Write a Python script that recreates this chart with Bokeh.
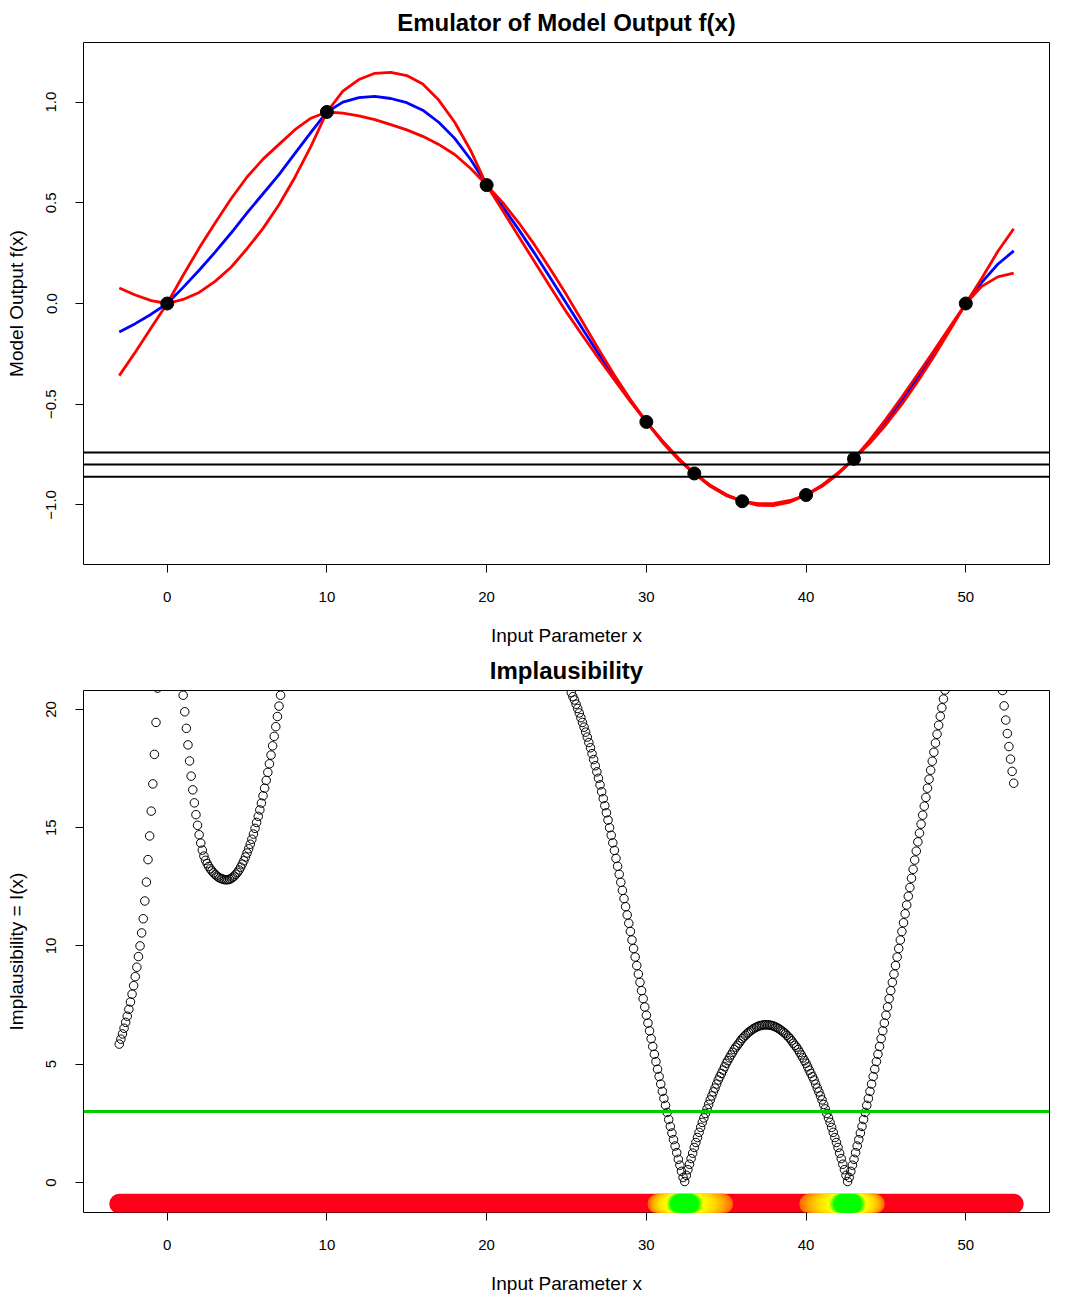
import numpy as np
from bokeh.plotting import figure
from bokeh.layouts import column
from bokeh.models import Range1d, FixedTicker, Span
from bokeh.embed import file_html
from bokeh.resources import INLINE

FONT = "Liberation Sans"

# ---- design runs of the simulator ----
design_x = [0, 10, 20, 30, 33, 36, 40, 43, 50]
design_f = [0.0, 0.951, 0.588, -0.588, -0.844, -0.982, -0.951, -0.771, 0.0]

# ---- emulator on a unit grid: mean and +/- 2 sd bounds ----
emu_x = list(range(-3, 54))
emu_mean = [
    -0.141, -0.100, -0.053, 0.000, 0.080, 0.165, 0.255, 0.350, 0.450, 0.545,
    0.640, 0.745, 0.850, 0.951, 1.000, 1.022, 1.028, 1.018, 0.997, 0.960,
    0.900, 0.820, 0.715, 0.588, 0.482, 0.368, 0.249, 0.125, 0.000, -0.125,
    -0.249, -0.368, -0.482, -0.588, -0.685, -0.771, -0.844, -0.905, -0.951, -0.982,
    -0.998, -0.998, -0.982, -0.951, -0.905, -0.844, -0.771, -0.685, -0.588, -0.482,
    -0.368, -0.249, -0.125, 0.000, 0.105, 0.195, 0.261,
]
emu_upper = [
    0.077, 0.042, 0.014, 0.000, 0.140, 0.275, 0.400, 0.520, 0.628, 0.717,
    0.790, 0.863, 0.920, 0.951, 1.055, 1.112, 1.143, 1.148, 1.132, 1.090,
    1.010, 0.900, 0.760, 0.588, 0.502, 0.402, 0.291, 0.169, 0.043, -0.091,
    -0.226, -0.356, -0.477, -0.588, -0.681, -0.767, -0.844, -0.902, -0.948, -0.982,
    -0.994, -0.993, -0.978, -0.951, -0.902, -0.841, -0.771, -0.677, -0.574, -0.464,
    -0.350, -0.235, -0.117, 0.000, 0.125, 0.258, 0.371,
]
emu_lower = [
    -0.358, -0.242, -0.120, 0.000, 0.020, 0.055, 0.110, 0.180, 0.272, 0.373,
    0.490, 0.627, 0.780, 0.951, 0.945, 0.932, 0.913, 0.888, 0.862, 0.830,
    0.790, 0.740, 0.670, 0.588, 0.462, 0.334, 0.207, 0.081, -0.043, -0.159,
    -0.272, -0.380, -0.487, -0.588, -0.689, -0.775, -0.844, -0.908, -0.954, -0.982,
    -1.002, -1.003, -0.986, -0.951, -0.908, -0.847, -0.771, -0.693, -0.602, -0.500,
    -0.386, -0.263, -0.133, 0.000, 0.085, 0.132, 0.151,
]

# ---- observation and its +/- 2 sd band ----
obs_z = -0.8
obs_lo, obs_hi = -0.86, -0.74
imp_cutoff = 3.0

# ---- implausibility, sampled every 0.1 in x where it falls inside the panel ----
imp_step = 0.1
imp_a_start = -3.0
imp_a = [
    5.85, 6.06, 6.28, 6.52, 6.77, 7.03, 7.32, 7.63, 7.96, 8.32,
    8.70, 9.10, 9.55, 10.00, 10.55, 11.15, 11.90, 12.70, 13.65, 14.65,
    15.70, 16.85, 18.10, 19.45, 20.90,
]
imp_b_start = 0.9
imp_b = [
    21.30, 20.60, 19.90, 19.20, 18.50, 17.82, 17.18, 16.60, 16.05, 15.55,
    15.10, 14.70, 14.35, 14.05, 13.80, 13.62, 13.48, 13.36, 13.26, 13.17,
    13.09, 13.02, 12.96, 12.91, 12.87, 12.84, 12.82, 12.80, 12.80, 12.80,
    12.82, 12.85, 12.90, 12.95, 13.03, 13.11, 13.21, 13.33, 13.46, 13.60,
    13.76, 13.93, 14.11, 14.30, 14.51, 14.73, 14.97, 15.22, 15.48, 15.75,
    16.04, 16.35, 16.67, 17.00, 17.34, 17.70, 18.07, 18.46, 18.86, 19.27,
    19.70, 20.14, 20.60, 21.07,
]
imp_c_start = 25.3
imp_c = [
    20.71, 20.54, 20.40, 20.22, 20.04, 19.85, 19.65, 19.45, 19.25, 19.04,
    18.83, 18.60, 18.38, 18.13, 17.88, 17.62, 17.36, 17.09, 16.81, 16.52,
    16.23, 15.93, 15.63, 15.32, 15.00, 14.68, 14.36, 14.04, 13.70, 13.37,
    13.03, 12.69, 12.35, 12.00, 11.66, 11.31, 10.96, 10.61, 10.25, 9.89,
    9.53, 9.17, 8.81, 8.46, 8.11, 7.77, 7.42, 7.07, 6.74, 6.41,
    6.08, 5.75, 5.42, 5.11, 4.79, 4.48, 4.16, 3.85, 3.55, 3.26,
    2.96, 2.66, 2.37, 2.09, 1.81, 1.54, 1.26, 0.98, 0.73, 0.47,
    0.21, 0.04, 0.30, 0.54, 0.77, 1.01, 1.24, 1.48, 1.69, 1.90,
    2.12, 2.33, 2.54, 2.73, 2.92, 3.11, 3.30, 3.49, 3.66, 3.83,
    3.99, 4.16, 4.33, 4.47, 4.61, 4.75, 4.89, 5.04, 5.15, 5.27,
    5.39, 5.50, 5.62, 5.72, 5.80, 5.89, 5.99, 6.08, 6.15, 6.22,
    6.29, 6.35, 6.40, 6.45, 6.50, 6.54, 6.57, 6.60, 6.63, 6.64,
    6.66, 6.66, 6.67, 6.66, 6.66, 6.64, 6.63, 6.60, 6.57, 6.54,
    6.50, 6.45, 6.40, 6.35, 6.29, 6.22, 6.15, 6.08, 5.99, 5.89,
    5.80, 5.72, 5.62, 5.50, 5.39, 5.27, 5.15, 5.04, 4.89, 4.75,
    4.61, 4.47, 4.33, 4.16, 3.99, 3.83, 3.66, 3.49, 3.30, 3.11,
    2.92, 2.73, 2.54, 2.33, 2.12, 1.90, 1.69, 1.48, 1.24, 1.01,
    0.77, 0.54, 0.30, 0.04, 0.21, 0.47, 0.73, 0.98, 1.26, 1.54,
    1.81, 2.09, 2.37, 2.66, 2.96, 3.26, 3.55, 3.85, 4.16, 4.48,
    4.79, 5.11, 5.42, 5.75, 6.08, 6.41, 6.74, 7.07, 7.42, 7.77,
    8.11, 8.46, 8.81, 9.17, 9.53, 9.89, 10.25, 10.61, 10.98, 11.36,
    11.73, 12.10, 12.47, 12.86, 13.24, 13.63, 14.01, 14.40, 14.77, 15.15,
    15.53, 15.91, 16.28, 16.67, 17.05, 17.43, 17.81, 18.19, 18.58, 18.95,
    19.33, 19.71, 20.07, 20.44, 20.82, 21.19,
]
imp_d_start = 52.3
imp_d = [20.80, 20.15, 19.55, 18.98, 18.43, 17.90, 17.38, 16.88]

segments = [(imp_a_start, imp_a), (imp_b_start, imp_b), (imp_c_start, imp_c), (imp_d_start, imp_d)]
imp_x, imp_v = [], []
for start, vals in segments:
    xs = np.round(start + imp_step * np.arange(len(vals)), 2)
    imp_x.extend(xs.tolist())
    imp_v.extend(vals)

# colour ramp for the strip: (implausibility, rgb)
STRIP_RED = (255, 0, 25)
strip_stops = [(0.0, (0, 255, 0)), (0.7, (0, 255, 0)), (1.5, (255, 255, 0)),
               (3.0, (255, 215, 0)), (4.0, (255, 165, 0)), (4.8, (255, 105, 0))]
strip_limit = strip_stops[-1][0]


def strip_colour(i):
    if i >= strip_limit:
        rgb = STRIP_RED
    else:
        for (a, ca), (b, cb) in zip(strip_stops[:-1], strip_stops[1:]):
            if a <= i <= b:
                t = (i - a) / (b - a)
                rgb = [int(round(ca[k] + t * (cb[k] - ca[k]))) for k in range(3)]
                break
    return "#%02x%02x%02x" % tuple(rgb)


def base_figure(title, y_range, x_label, y_label):
    p = figure(width=1080, height=648, output_backend="svg", toolbar_location=None,
               x_range=Range1d(-5.24, 55.24), y_range=y_range,
               min_border_left=83, min_border_right=31, min_border_top=42,
               min_border_bottom=84)
    p.title.text = title
    p.title.align = "center"
    p.title.text_font = FONT
    p.title.text_font_size = "24px"
    p.title.text_font_style = "bold"
    p.title.text_color = "black"
    p.title.standoff = 13
    p.grid.visible = False
    p.outline_line_color = "black"
    p.outline_line_width = 1
    p.outline_line_alpha = 1
    p.background_fill_color = "white"
    p.border_fill_color = "white"
    for ax in (p.xaxis[0], p.yaxis[0]):
        ax.axis_line_color = None
        ax.major_tick_out = 8
        ax.major_tick_in = 0
        ax.minor_tick_line_color = None
        ax.major_tick_line_color = "black"
        ax.major_label_text_font = FONT
        ax.major_label_text_font_size = "15px"
        ax.major_label_text_color = "black"
        ax.axis_label_text_font = FONT
        ax.axis_label_text_font_size = "19px"
        ax.axis_label_text_font_style = "normal"
        ax.axis_label_text_color = "black"
    p.xaxis.axis_label = x_label
    p.yaxis.axis_label = y_label
    p.xaxis.ticker = FixedTicker(ticks=[0, 10, 20, 30, 40, 50])
    p.xaxis.major_label_standoff = 19
    p.xaxis.axis_label_standoff = 20
    p.yaxis.major_label_orientation = "vertical"
    p.yaxis.major_label_standoff = 19
    p.yaxis.axis_label_standoff = 17
    return p


# ---- top panel: emulator ----
p1 = base_figure("Emulator of Model Output f(x)", Range1d(-1.296, 1.296),
                 "Input Parameter x", "Model Output f(x)")
p1.yaxis.ticker = FixedTicker(ticks=[-1.0, -0.5, 0.0, 0.5, 1.0])
p1.yaxis.major_label_overrides = {-1.0: "\u22121.0", -0.5: "\u22120.5", 0.0: "0.0",
                                  0.5: "0.5", 1.0: "1.0"}

p1.line(emu_x, emu_mean, line_color="#0000ff", line_width=2.8)
p1.line(emu_x, emu_upper, line_color="#ff0000", line_width=2.8)
p1.line(emu_x, emu_lower, line_color="#ff0000", line_width=2.8)
for level in (obs_hi, obs_z, obs_lo):
    p1.add_layout(Span(location=level, dimension="width", line_color="black", line_width=2))
p1.scatter(design_x, design_f, marker="circle", size=13, fill_color="black", line_color="black")

# ---- bottom panel: implausibility ----
p2 = base_figure("Implausibility", Range1d(-1.27, 20.8),
                 "Input Parameter x", "Implausibility = I(x)")
p2.yaxis.ticker = FixedTicker(ticks=[0, 5, 10, 15, 20])

p2.scatter(imp_x, imp_v, marker="circle", size=8.5, fill_color=None,
           line_color="black", line_width=1)
p2.add_layout(Span(location=imp_cutoff, dimension="width", line_color="#00cd00", line_width=3))

# colour strip along the foot of the panel: red everywhere, with the
# plausible inputs painted on top, most plausible last
strip_y = -0.9
p2.line([emu_x[0], emu_x[-1]], [strip_y, strip_y], line_color=strip_colour(99),
        line_width=20, line_cap="round")
low = sorted([(v, x) for x, v in zip(imp_x, imp_v) if v < strip_limit], reverse=True)
p2.scatter([x for v, x in low], [strip_y] * len(low), marker="circle", size=20,
           fill_color=[strip_colour(v) for v, x in low], line_color=None)

layout = column(p1, p2, spacing=0)
open("out.html", "w").write(file_html(layout, INLINE))
